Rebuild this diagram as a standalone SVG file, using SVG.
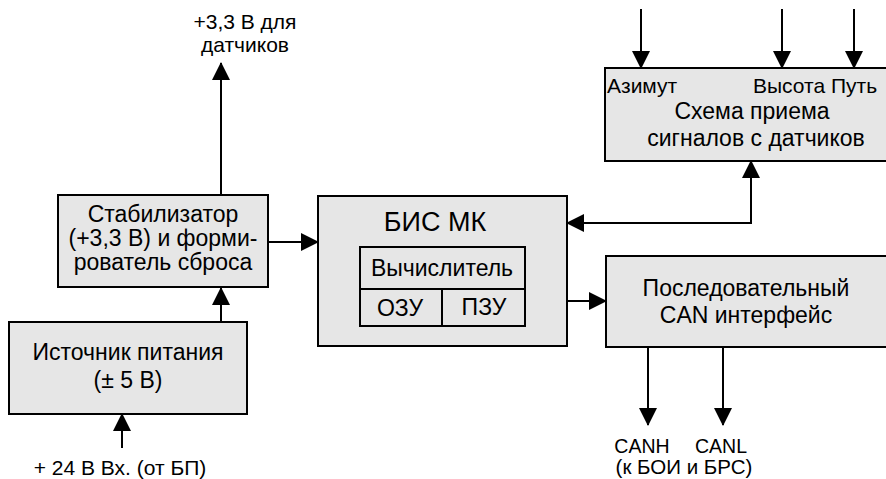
<svg xmlns="http://www.w3.org/2000/svg" width="886" height="479" viewBox="0 0 886 479">
<style>
.box{fill:#e6e6e6;stroke:#000;stroke-width:2}
.in{fill:none;stroke:#000;stroke-width:2}
.t{font-family:"Liberation Sans",Arial,sans-serif;font-size:23px;fill:#000;text-anchor:middle}
.s{font-size:21px}
.big{font-size:27px}
.c{fill:none;stroke:#000;stroke-width:2}
</style>
<defs>
<marker id="ah" viewBox="0 0 18 18" markerWidth="18" markerHeight="18" refX="17" refY="9" orient="auto-start-reverse" markerUnits="userSpaceOnUse">
<path d="M0,0 L18,9 L0,18 z" fill="#000"/>
</marker>
</defs>
<g id="connectors">
<line class="c" x1="221" y1="195" x2="221" y2="63" marker-end="url(#ah)"/>
<line class="c" x1="268" y1="242" x2="318" y2="242" marker-end="url(#ah)"/>
<line class="c" x1="221" y1="322" x2="221" y2="288" marker-end="url(#ah)"/>
<line class="c" x1="122" y1="448" x2="122" y2="414" marker-end="url(#ah)"/>
<line class="c" x1="567" y1="301" x2="606" y2="301" marker-end="url(#ah)"/>
<path class="c" d="M567,223 H751 V161" marker-start="url(#ah)" marker-end="url(#ah)"/>
<line class="c" x1="641" y1="9" x2="641" y2="68" marker-end="url(#ah)"/>
<line class="c" x1="782" y1="9" x2="782" y2="68" marker-end="url(#ah)"/>
<line class="c" x1="854" y1="9" x2="854" y2="68" marker-end="url(#ah)"/>
<line class="c" x1="648" y1="347" x2="648" y2="425" marker-end="url(#ah)"/>
<line class="c" x1="723" y1="347" x2="723" y2="425" marker-end="url(#ah)"/>
</g>
<g id="label-33v">
<text class="t s" x="245" y="29">+3,3 В для</text>
<text class="t s" x="245" y="52">датчиков</text>
</g>
<g id="stabilizer">
<rect class="box" x="58" y="195" width="210" height="92"/>
<text class="t" x="163" y="222">Стабилизатор</text>
<text class="t" x="163" y="246">(+3,3 В) и форми-</text>
<text class="t" x="163" y="270">рователь сброса</text>
</g>
<g id="power">
<rect class="box" x="9" y="322" width="238" height="92"/>
<text class="t" x="128" y="360">Источник питания</text>
<text class="t" x="128" y="388">(± 5 В)</text>
</g>
<g id="label-24v">
<text class="t s" x="120" y="475">+ 24 В Вх. (от БП)</text>
</g>
<g id="bis">
<rect class="box" x="318" y="196" width="249" height="150"/>
<text class="t big" x="435" y="231">БИС МК</text>
<rect class="in" x="360" y="247" width="165" height="79"/>
<line class="in" x1="360" y1="289" x2="525" y2="289"/>
<line class="in" x1="442" y1="289" x2="442" y2="326"/>
<text class="t" x="442" y="276">Вычислитель</text>
<text class="t" x="400" y="316">ОЗУ</text>
<text class="t" x="484" y="315">ПЗУ</text>
</g>
<g id="receiver">
<rect class="box" x="605" y="68" width="290" height="93"/>
<text class="t s" x="607" y="93" style="text-anchor:start">Азимут</text>
<text class="t s" x="753" y="93" style="text-anchor:start">Высота Путь</text>
<text class="t" x="752" y="119">Схема приема</text>
<text class="t" x="756" y="146">сигналов с датчиков</text>
</g>
<g id="can">
<rect class="box" x="606" y="256" width="290" height="91"/>
<text class="t" x="746" y="296">Последовательный</text>
<text class="t" x="746" y="323">CAN интерфейс</text>
</g>
<g id="label-can">
<text class="t s" x="642" y="453" style="font-size:19.5px">CANH</text>
<text class="t s" x="721" y="453" style="font-size:19.5px">CANL</text>
<text class="t s" x="684" y="474" style="font-size:20.5px">(к БОИ и БРС)</text>
</g>
</svg>
